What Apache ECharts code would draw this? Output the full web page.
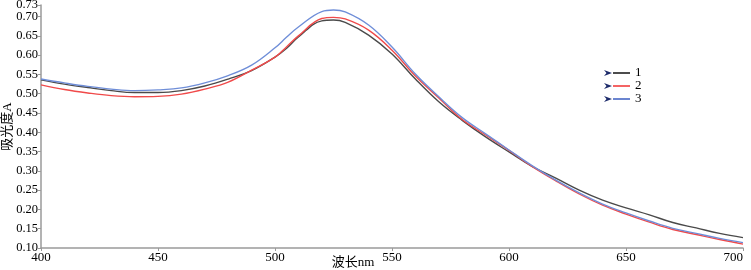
<!DOCTYPE html>
<html>
<head>
<meta charset="utf-8">
<script src="https://cdn.jsdelivr.net/npm/echarts@6/dist/echarts.min.js"></script>
<style>
  html, body { margin: 0; padding: 0; background: #fff; }
  #chart { width: 751px; height: 270px; }
</style>
</head>
<body>
<div id="chart"></div>
<script>
// wavelength (nm)
const wavelengths = [400, 410, 420, 430, 440, 450, 460, 470, 480, 490, 500, 505, 510, 520, 525, 530, 540, 550,
  560, 570, 580, 590, 600, 610, 620, 630, 640, 650, 660, 670, 680, 690, 700];

// absorbance
const sample1 = [0.536, 0.525, 0.516, 0.508, 0.503, 0.503, 0.508, 0.520, 0.538, 0.560, 0.595, 0.618, 0.647, 0.689, 0.691, 0.685, 0.652, 0.603,
  0.538, 0.479, 0.431, 0.388, 0.349, 0.311, 0.281, 0.250, 0.224, 0.204, 0.186, 0.166, 0.152, 0.138, 0.127];
const sample2 = [0.523, 0.511, 0.502, 0.495, 0.492, 0.493, 0.499, 0.512, 0.530, 0.561, 0.595, 0.622, 0.650, 0.695, 0.698, 0.694, 0.665, 0.613,
  0.546, 0.489, 0.433, 0.393, 0.353, 0.311, 0.274, 0.240, 0.211, 0.188, 0.167, 0.148, 0.135, 0.122, 0.110];
const sample3 = [0.538, 0.528, 0.519, 0.512, 0.508, 0.510, 0.515, 0.528, 0.547, 0.574, 0.619, 0.647, 0.673, 0.713, 0.717, 0.712, 0.678, 0.621,
  0.551, 0.492, 0.438, 0.396, 0.354, 0.313, 0.276, 0.243, 0.214, 0.191, 0.170, 0.151, 0.138, 0.125, 0.114];

// y tick labels (the top one, 0.73, is the axis max)
const yTicks = [0.10, 0.15, 0.20, 0.25, 0.30, 0.35, 0.40, 0.45, 0.50, 0.55, 0.60, 0.65, 0.70];
const yTop = [0.73];

const seriesNames = ["1", "2", "3"];
const seriesColors = ["#4a4a4a", "#f04a4a", "#6f8ed8"];
const legendColors = ["#111111", "#f03030", "#3a5cc0"];

const chart = echarts.init(document.getElementById("chart"));

const pair = (ys) => wavelengths.map((x, i) => [x, ys[i]]);
const serif = "'Liberation Serif', 'Times New Roman', serif";
const cjk = "'Liberation Serif', 'Noto Sans CJK SC', serif";

const legendTop = 66.5;
const rowH = 13;

const yLabel = {
  fontFamily: serif, fontSize: 12.5, color: "#000", margin: 3,
  hideOverlap: false,
  formatter: (v) => v.toFixed(2)
};

chart.setOption({
  animation: false,
  grid: { left: 41, right: 8, top: 5, bottom: 22, outerBoundsMode: "none", containLabel: false },
  legend: {
    orient: "vertical",
    left: 613,
    top: legendTop,
    padding: 0,
    itemWidth: 17,
    itemHeight: 1.5,
    itemGap: 0,
    icon: "rect",
    textStyle: { fontFamily: serif, fontSize: 13, color: "#000", lineHeight: rowH, height: rowH, padding: 0 },
    data: seriesNames.map((n, i) => ({ name: n, itemStyle: { color: legendColors[i] } }))
  },
  graphic: seriesNames.map((n, i) => {
    const cy = legendTop + rowH * i + rowH / 2;
    return {
      type: "polygon",
      silent: true,
      shape: { points: [[604, cy - 3], [612, cy], [604, cy + 3], [606.5, cy]] },
      style: { fill: "#1c2a6a" }
    };
  }),
  xAxis: {
    type: "value",
    min: 400,
    max: 700,
    interval: 50,
    name: "波长nm",
    nameLocation: "middle",
    nameGap: 8,
    nameMoveOverlap: false,
    nameTextStyle: { fontFamily: cjk, fontSize: 13, color: "#000", padding: [0, 78, 0, 0] },
    axisLine: { lineStyle: { color: "#9a9a9a", width: 1.5 } },
    axisTick: { show: true, length: 3, lineStyle: { color: "#9a9a9a" } },
    axisLabel: { fontFamily: serif, fontSize: 13, color: "#000", margin: 3, alignMaxLabel: "right", hideOverlap: false },
    splitLine: { show: false }
  },
  yAxis: [
    {
      type: "value",
      min: 0.10,
      max: 0.73,
      name: "吸光度A",
      nameLocation: "middle",
      nameGap: 27,
      nameMoveOverlap: false,
      nameTextStyle: { fontFamily: cjk, fontSize: 13, color: "#000" },
      axisLine: { show: true, lineStyle: { color: "#9a9a9a", width: 1.5 } },
      axisTick: { show: true, length: 3, customValues: yTicks, lineStyle: { color: "#9a9a9a" } },
      axisLabel: Object.assign({ customValues: yTicks }, yLabel),
      splitLine: { show: false }
    },
    {
      type: "value",
      position: "left",
      min: 0.10,
      max: 0.73,
      axisLine: { show: false },
      axisTick: { show: true, length: 3, customValues: yTop, lineStyle: { color: "#9a9a9a" } },
      axisLabel: Object.assign({ customValues: yTop }, yLabel),
      splitLine: { show: false }
    }
  ],
  series: seriesNames.map((n, i) => ({
    name: n,
    type: "line",
    smooth: 0.4,
    showSymbol: false,
    yAxisIndex: 0,
    data: pair([sample1, sample2, sample3][i]),
    lineStyle: { color: seriesColors[i], width: 1.4 },
    itemStyle: { color: seriesColors[i] },
    z: i === 2 ? 3 : 2
  }))
});
</script>
</body>
</html>
